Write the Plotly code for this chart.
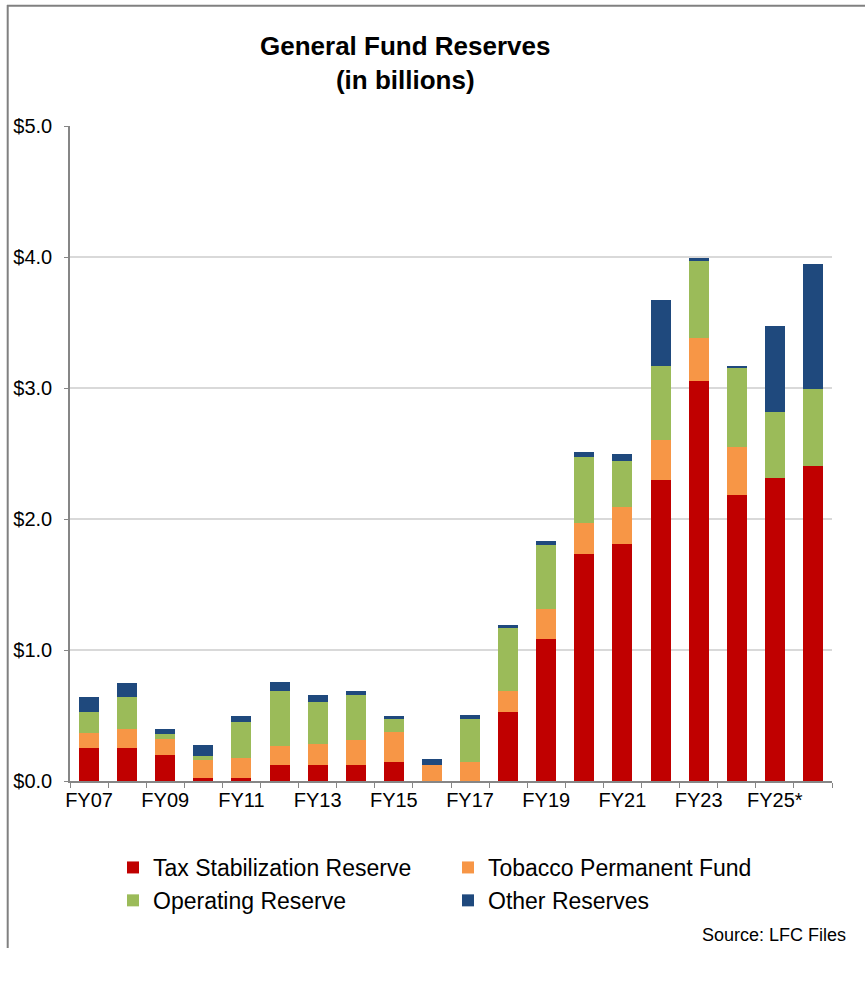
import plotly.graph_objects as go

categories = ["FY07", "FY08", "FY09", "FY10", "FY11", "FY12", "FY13", "FY14", "FY15", "FY16",
              "FY17", "FY18", "FY19", "FY20", "FY21", "FY22", "FY23", "FY24", "FY25*", "FY26*"]
tick_labels = ["FY07", "", "FY09", "", "FY11", "", "FY13", "", "FY15", "",
               "FY17", "", "FY19", "", "FY21", "", "FY23", "", "FY25*", ""]

tax_stabilization = [0.25, 0.25, 0.20, 0.025, 0.025, 0.12, 0.12, 0.12, 0.145, 0.0,
                     0.0, 0.525, 1.085, 1.73, 1.81, 2.30, 3.05, 2.18, 2.315, 2.405]
tobacco_permanent = [0.12, 0.145, 0.12, 0.133, 0.15, 0.15, 0.16, 0.195, 0.23, 0.125,
                     0.145, 0.16, 0.23, 0.24, 0.285, 0.305, 0.33, 0.37, 0.0, 0.0]
operating_reserve = [0.155, 0.25, 0.04, 0.035, 0.275, 0.415, 0.32, 0.34, 0.105, 0.0,
                     0.33, 0.49, 0.49, 0.505, 0.35, 0.56, 0.595, 0.61, 0.505, 0.59]
other_reserves = [0.115, 0.10, 0.035, 0.085, 0.05, 0.07, 0.055, 0.035, 0.015, 0.043,
                  0.028, 0.013, 0.03, 0.04, 0.055, 0.51, 0.015, 0.01, 0.65, 0.95]

series = [
    ("Tax Stabilization Reserve", tax_stabilization, "#C00000"),
    ("Tobacco Permanent Fund", tobacco_permanent, "#F79646"),
    ("Operating Reserve", operating_reserve, "#9BBB59"),
    ("Other Reserves", other_reserves, "#1F497D"),
]

W, H = 865, 981
L, R, T, B = 70, 33, 126, 200
pw, ph = W - L - R, H - T - B


def px_x(x):
    return (x - L) / pw


def px_y(y):
    return (H - B - y) / ph


FONT = "Arial, Liberation Sans, sans-serif"

fig = go.Figure()
for name, vals, color in series:
    fig.add_trace(go.Bar(x=categories, y=vals, name=name,
                         marker=dict(color=color, line=dict(width=0))))

fig.update_layout(
    width=W, height=H,
    margin=dict(l=L, r=R, t=T, b=B),
    barmode="stack", bargap=0.475,
    paper_bgcolor="white", plot_bgcolor="white",
    font=dict(family=FONT, color="black"),
    showlegend=True,
    legend=dict(orientation="h", x=px_x(113), xanchor="left", y=px_y(846), yanchor="top",
                font=dict(size=23, family=FONT, color="black"),
                traceorder="normal", entrywidth=290, entrywidthmode="pixels",
                bgcolor="rgba(0,0,0,0)"),
    xaxis=dict(type="category", tickmode="array", tickvals=categories, ticktext=tick_labels,
               tickson="boundaries", ticks="outside", ticklen=5, tickcolor="#868686",
               showline=True, linecolor="#868686", linewidth=1.5,
               showgrid=False, tickfont=dict(size=20, family=FONT, color="black"),
               tickangle=0),
    yaxis=dict(range=[0, 5], dtick=1, tickprefix="$", tickformat=".1f",
               ticks="outside", ticklen=4, tickcolor="#868686",
               showline=True, linecolor="#868686", linewidth=1.5,
               showgrid=True, gridcolor="#d9d9d9", gridwidth=2, zeroline=False,
               tickfont=dict(size=20, family=FONT, color="black"),
               ticklabelstandoff=8),
)

fig.add_annotation(text="<b>General Fund Reserves</b><br><b>(in billions)</b>",
                   xref="paper", yref="paper", x=px_x(405), y=px_y(63),
                   xanchor="center", yanchor="middle", showarrow=False,
                   font=dict(size=26, family=FONT, color="black"))
fig.add_annotation(text="Source: LFC Files", xref="paper", yref="paper",
                   x=px_x(848), y=px_y(935), xanchor="right", yanchor="middle",
                   showarrow=False, font=dict(size=18, family=FONT, color="black"))

# frame lines
fig.add_shape(type="line", xref="paper", yref="paper",
              x0=px_x(7.7), x1=px_x(7.7), y0=px_y(5), y1=px_y(948),
              line=dict(color="#808080", width=2))
fig.add_shape(type="line", xref="paper", yref="paper",
              x0=px_x(7), x1=px_x(870), y0=px_y(5.7), y1=px_y(5.7),
              line=dict(color="#808080", width=2))

fig.write_html("out.html")
